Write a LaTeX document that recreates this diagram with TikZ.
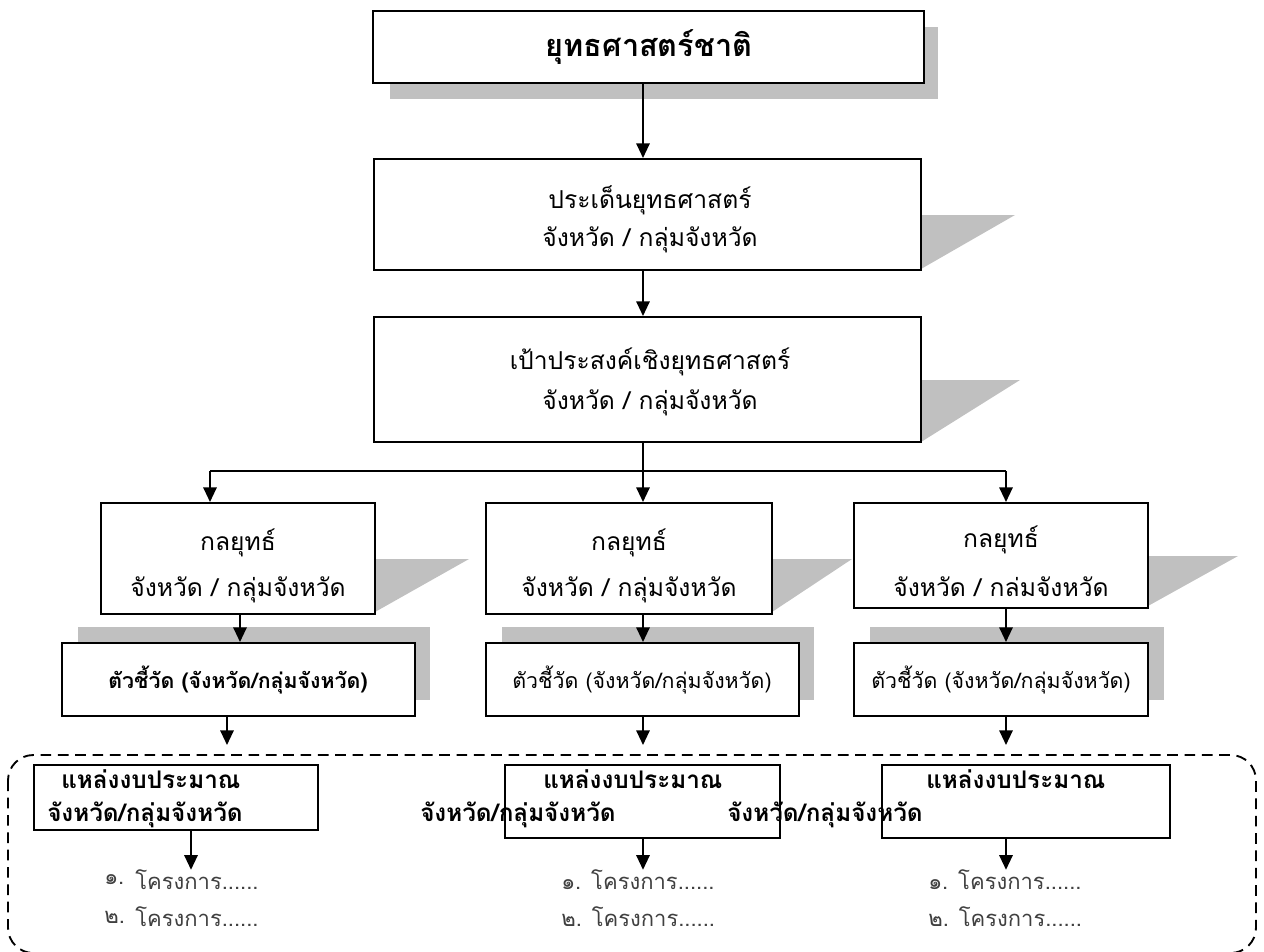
\documentclass[tikz,border=0pt]{standalone}
\usepackage{fontspec}
\newfontfamily\thai[Script=Thai]{Loma}
\usetikzlibrary{fit,arrows.meta}
\definecolor{shade}{HTML}{C0C0C0}
\definecolor{itemgray}{HTML}{404040}
\begin{document}
\begin{tikzpicture}[x=0.75pt,y=-0.75pt,
  box/.style={draw=black, line width=1.5pt, fill=white, inner sep=0pt},
  shd/.style={fill=shade, draw=none},
  arr/.style={line width=1.5pt, -{Triangle[length=11pt,width=10pt]}},
  ln/.style={line width=1.5pt},
  txt/.style={font=\thai\fontsize{18.5}{20}\selectfont, inner sep=0pt},
  ttl/.style={font=\thai\bfseries\fontsize{23}{25}\selectfont, inner sep=0pt},
  btxt/.style={font=\thai\bfseries\fontsize{18.2}{20}\selectfont, inner sep=0pt, anchor=west},
  ind/.style={font=\thai\fontsize{16}{18}\selectfont, inner sep=0pt},
  indb/.style={font=\thai\bfseries\fontsize{16}{18}\selectfont, inner sep=0pt},
  itm/.style={font=\thai\fontsize{16.5}{18}\selectfont, text=itemgray, inner sep=0pt, anchor=west},
  dashbox/.style={dash pattern=on 8pt off 5pt, line width=1.4pt, rounded corners=19pt}
]
\useasboundingbox (0,0) rectangle (1264,951);

% column coordinates
\coordinate (cx) at (643,0);
\coordinate (lx) at (210,0);
\coordinate (rx) at (1006,0);
\coordinate (lx2) at (240,0);
\coordinate (lx3) at (227,0);
\coordinate (lx4) at (191,0);

% ---------- shadows ----------
\fill[shd] (390,27) rectangle (938,99);
\fill[shd] (921,215) -- (1015,215) -- (921,269) -- cycle;
\fill[shd] (921,380) -- (1020,380) -- (921,442) -- cycle;
\fill[shd] (375,559) -- (469,559) -- (375,612) -- cycle;
\fill[shd] (772,559) -- (852,559) -- (772,612) -- cycle;
\fill[shd] (1148,556) -- (1238,556) -- (1148,606) -- cycle;
\fill[shd] (78,627) rectangle (430,700);
\fill[shd] (502,627) rectangle (814,700);
\fill[shd] (870,627) rectangle (1164,700);

% ---------- dashed frame ----------
\draw[dashbox] (8,755) rectangle (1256,953);

% ---------- boxes ----------
\node[box, fit={(373,11) (924,83)}] (b1) {};
\node[box, fit={(374,159) (921,270)}] (b2) {};
\node[box, fit={(374,317) (921,442)}] (b3) {};
\node[box, fit={(101,503) (375,614)}] (s1) {};
\node[box, fit={(486,503) (772,614)}] (s2) {};
\node[box, fit={(854,503) (1148,608)}] (s3) {};
\node[box, fit={(62,643) (415,716)}] (i1) {};
\node[box, fit={(486,643) (799,716)}] (i2) {};
\node[box, fit={(854,643) (1148,716)}] (i3) {};
\node[box, fit={(34,765) (318,830)}] (g1) {};
\node[box, fit={(505,765) (780,838)}] (g2) {};
\node[box, fit={(882,765) (1170,838)}] (g3) {};

% ---------- texts ----------
\node[ttl] (t1) at (649,47) {ยุทธศาสตร์ชาติ};
\node[txt] (t2a) at (650,200) {ประเด็นยุทธศาสตร์};
\node[txt] (t2b) at (650,240) {จังหวัด / กลุ่มจังหวัด};
\node[txt] (t3a) at (650,362) {เป้าประสงค์เชิงยุทธศาสตร์};
\node[txt] (t3b) at (650,403) {จังหวัด / กลุ่มจังหวัด};
\node[txt] (s1a) at (238,543) {กลยุทธ์};
\node[txt] (s1b) at (238,590) {จังหวัด / กลุ่มจังหวัด};
\node[txt] (s2a) at (629,543) {กลยุทธ์};
\node[txt] (s2b) at (629,590) {จังหวัด / กลุ่มจังหวัด};
\node[txt] (s3a) at (1001,540) {กลยุทธ์};
\node[txt] (s3b) at (1001,587) {จังหวัด / กล่มจังหวัด};
\node[indb] (i1t) at (238,680) {ตัวชี้วัด (จังหวัด/กลุ่มจังหวัด)};
\node[ind] (i2t) at (642,680) {ตัวชี้วัด (จังหวัด/กลุ่มจังหวัด)};
\node[ind] (i3t) at (1001,680) {ตัวชี้วัด (จังหวัด/กลุ่มจังหวัด)};
\node[btxt] (g1a) at (61,779) {แหล่งงบประมาณ};
\node[btxt] (g1b) at (47,815) {จังหวัด/กลุ่มจังหวัด};
\node[btxt] (g2a) at (543,779) {แหล่งงบประมาณ};
\node[btxt] (g2b) at (420,815) {จังหวัด/กลุ่มจังหวัด};
\node[btxt] (g3a) at (926,779) {แหล่งงบประมาณ};
\node[btxt] (g3b) at (727,815) {จังหวัด/กลุ่มจังหวัด};
\node[itm] (n1a) at (104,880) {๑.};
\node[itm] (p1a) at (135,880) {โครงการ......};
\node[itm] (n1b) at (104,917) {๒.};
\node[itm] (p1b) at (135,917) {โครงการ......};
\node[itm] (p2a) at (561,880) {๑. โครงการ......};
\node[itm] (p2b) at (561,917) {๒. โครงการ......};
\node[itm] (p3a) at (928,880) {๑. โครงการ......};
\node[itm] (p3b) at (928,917) {๒. โครงการ......};

% ---------- connectors ----------
\draw[arr] (b1.south -| cx) -- (b2.north -| cx);
\draw[arr] (b2.south -| cx) -- (b3.north -| cx);
\coordinate (j) at (643,471);
\draw[ln] (b3.south -| cx) -- (j);
\draw[ln] (j -| lx) -- (j -| rx);
\draw[arr] (j -| lx) -- (s1.north -| lx);
\draw[arr] (j) -- (s2.north -| cx);
\draw[arr] (j -| rx) -- (s3.north -| rx);
\draw[arr] (s1.south -| lx2) -- (i1.north -| lx2);
\draw[arr] (s2.south -| cx) -- (i2.north -| cx);
\draw[arr] (s3.south -| rx) -- (i3.north -| rx);
\coordinate (d1) at (227,745);
\coordinate (d2) at (643,745);
\coordinate (d3) at (1006,745);
\draw[arr] (i1.south -| lx3) -- (d1);
\draw[arr] (i2.south -| cx) -- (d2);
\draw[arr] (i3.south -| rx) -- (d3);
\draw[arr] (g1.south -| lx4) -- (p1a.north -| lx4);
\draw[arr] (g2.south -| cx) -- (p2a.north -| cx);
\draw[arr] (g3.south -| rx) -- (p3a.north -| rx);
\end{tikzpicture}
\end{document}
